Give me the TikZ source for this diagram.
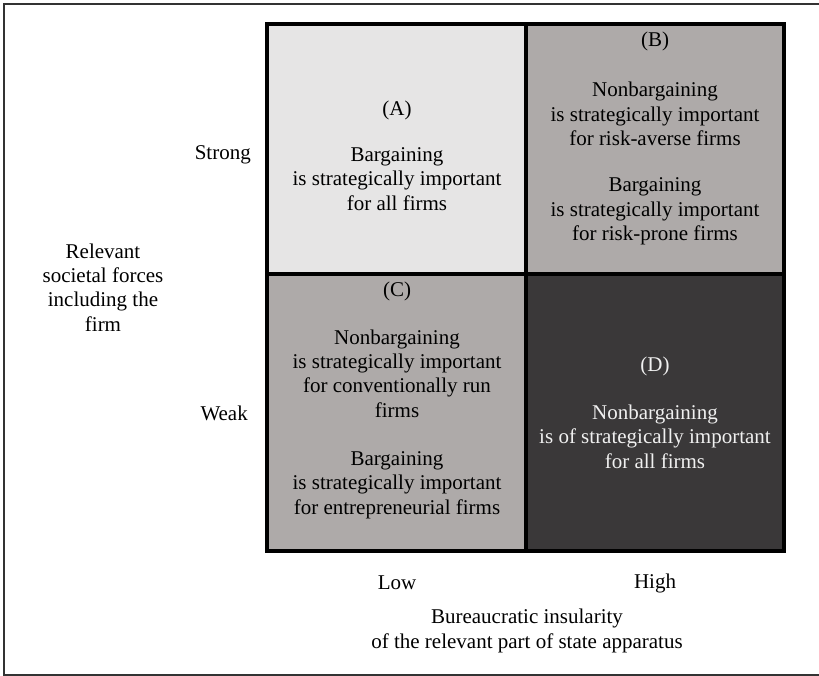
\documentclass[tikz,border=0pt]{standalone}
\usepackage{fontspec}
\setmainfont{Liberation Serif}
\usepackage{tikz}
\usepackage{xcolor}
\definecolor{celllight}{HTML}{E6E5E5}
\definecolor{cellmid}{HTML}{AEAAA9}
\definecolor{celldark}{HTML}{3A3839}
\definecolor{framegray}{HTML}{333333}

\tikzset{
  celltext/.style={align=center, inner sep=0pt,
    font=\fontsize{21}{24.3}\selectfont},
  axistext/.style={celltext}
}

\begin{document}
\begin{tikzpicture}[x=1pt,y=-1pt]
\useasboundingbox (0,0) rectangle (819,676);
\draw[framegray, line width=1.3pt] (4,4) rectangle (840,675);

\fill[celllight] (267,24) rectangle (526,274);
\fill[cellmid]   (526,24) rectangle (784,274);
\fill[cellmid]   (267,274) rectangle (526,551);
\fill[celldark]  (526,274) rectangle (784,551);
\draw[line width=4pt] (267,24) rectangle (784,551);
\draw[line width=3.5pt] (526,24) -- (526,551);
\draw[line width=3.5pt] (267,274) -- (784,274);

\node[celltext] (cellA) at (397,155.5) {(A)\\[22pt]Bargaining\\is strategically important\\for all firms};
\node[celltext] (cellB) at (655,138.5) {(B)\\[26pt]Nonbargaining\\is strategically important\\for risk-averse firms\\[22pt]Bargaining\\is strategically important\\for risk-prone firms};
\node[celltext] (cellC) at (397,400) {(C)\\[24pt]Nonbargaining\\is strategically important\\for conventionally run\\firms\\[24pt]Bargaining\\is strategically important\\for entrepreneurial firms};
\node[celltext, text=white!94!black] (cellD) at (655,412.5) {(D)\\[24pt]Nonbargaining\\is of strategically important\\for all firms};

\node[axistext, anchor=east] (strong) at (251,155) {Strong};
\node[axistext, anchor=east] (weak) at (248,413) {Weak};
\node[axistext] (forces) at (103,287.5) {Relevant\\societal forces\\including the\\firm};

\node[axistext] (low) at (397,583) {Low};
\node[axistext] (high) at (655,583) {High};
\node[axistext] (insularity) at (527,631) {Bureaucratic insularity\\of the relevant part of state apparatus};
\end{tikzpicture}
\end{document}
